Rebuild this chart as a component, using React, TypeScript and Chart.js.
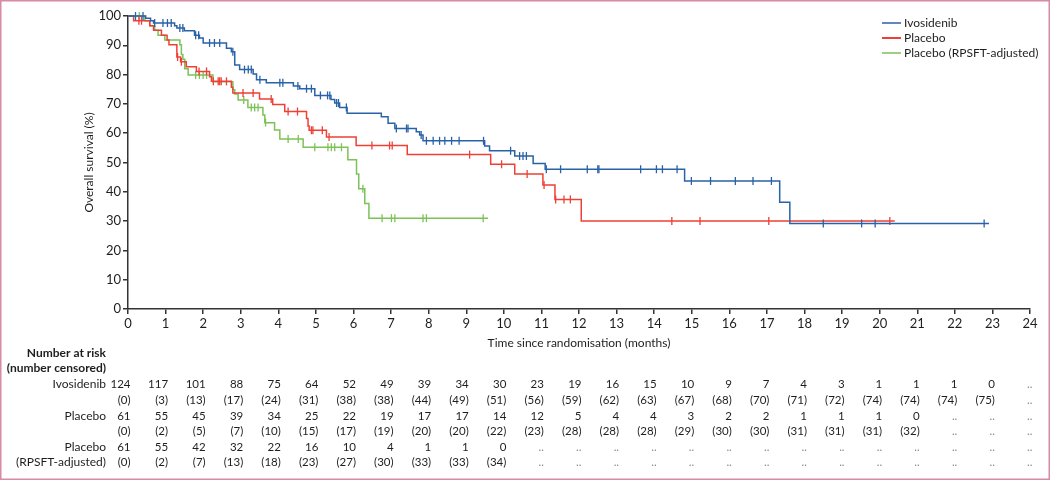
import React, { useEffect, useRef } from "react";
import { Chart, registerables } from "chart.js";

Chart.register(...registerables);

// ---------- data ----------
const seriesLabels = ["Ivosidenib", "Placebo", "Placebo (RPSFT-adjusted)"];

// Kaplan-Meier steps: [time (months), survival (%) after the drop]
const ivoSteps: [number, number][] = [
  [0, 100], [0.47, 99.2], [0.6, 98.4], [0.68, 97.6], [1.24, 96.7], [1.3, 95.9], [1.5, 95.0],
  [1.77, 93.4], [1.9, 92.5], [2.0, 90.8], [2.62, 89.0], [2.75, 87.8], [2.84, 83.3], [2.97, 81.7],
  [3.33, 80.2], [3.42, 78.2], [3.68, 77.2], [4.4, 76.1], [4.57, 75.2], [4.97, 72.9], [5.4, 71.5],
  [5.5, 70.3], [5.63, 68.8], [5.83, 66.8], [6.74, 65.6], [6.92, 63.4], [7.1, 61.6], [7.67, 60.5],
  [7.76, 59.4], [7.85, 57.4], [9.49, 55.6], [9.62, 54.0], [10.29, 52.2], [10.78, 49.7],
  [11.1, 47.7], [14.81, 43.7], [17.34, 36.4], [17.61, 29.2],
];
const ivoEnd = 22.91;
const ivoCensor = [
  0.2, 0.4, 0.71, 0.93, 1.05, 1.15, 1.38, 1.46, 1.8, 1.88, 2.17, 2.3, 2.44, 2.79, 3.1, 3.2, 3.28,
  3.51, 4.04, 4.12, 4.52, 4.75, 4.88, 5.12, 5.31, 5.37, 5.55, 5.6, 5.81, 7.14, 7.41, 7.45, 7.8,
  7.94, 8.12, 8.29, 8.43, 8.61, 8.81, 9.46, 10.18, 10.42, 10.51, 10.6, 11.13, 11.51, 12.22, 12.5,
  12.53, 13.64, 14.06, 14.22, 14.61, 14.99, 15.5, 16.16, 16.63, 17.12, 18.5, 19.52, 19.88, 22.78,
];

const plaSteps: [number, number][] = [
  [0, 100], [0.15, 98.4], [0.58, 96.7], [0.68, 95.1], [0.89, 93.4], [1.04, 91.8], [1.09, 90.2],
  [1.3, 86.0], [1.4, 84.4], [1.55, 82.7], [1.82, 81.1], [2.17, 79.3], [2.22, 77.7], [2.75, 75.7],
  [2.79, 73.7], [3.5, 71.7], [3.85, 69.8], [4.17, 67.4], [4.75, 65.0], [4.79, 62.5], [4.82, 61.0],
  [5.28, 58.7], [6.07, 55.8], [7.43, 52.7], [9.65, 49.4], [10.29, 46.1], [11.04, 42.3],
  [11.36, 37.4], [12.06, 30.0],
];
const plaEnd = 20.4;
const plaCensor = [
  0.29, 0.36, 1.32, 1.42, 1.89, 2.09, 2.27, 2.4, 2.44, 2.48, 2.62, 3.06, 3.33, 3.81, 4.26, 4.51,
  4.88, 4.92, 5.17, 5.35, 6.49, 6.96, 7.03, 9.09, 9.94, 10.62, 11.07, 11.38, 11.6, 11.77, 14.47,
  15.22, 17.05, 20.27,
];

const rpsSteps: [number, number][] = [
  [0, 100], [0.45, 98.4], [0.58, 96.7], [0.71, 95.1], [0.8, 93.4], [0.98, 91.8], [1.38, 90.2],
  [1.42, 86.9], [1.46, 85.2], [1.51, 82.0], [1.6, 79.9], [2.26, 77.6], [2.79, 74.8], [2.84, 73.4],
  [2.93, 71.3], [3.19, 68.8], [3.59, 66.2], [3.64, 63.6], [3.9, 61.1], [4.04, 58.0], [4.66, 55.2],
  [5.85, 50.9], [6.08, 46.1], [6.14, 41.0], [6.3, 36.0], [6.41, 31.0],
];
const rpsEnd = 9.58;
const rpsCensor = [
  0.3, 1.8, 1.9, 2.0, 2.09, 3.08, 3.28, 3.37, 3.46, 3.66, 4.26, 4.53, 4.97, 5.32, 5.41, 5.5, 5.68,
  6.25, 6.76, 7.01, 7.1, 7.85, 7.94, 9.45,
];

// Number at risk (number censored) at months 0..24
const ivoAtRisk = ["124", "117", "101", "88", "75", "64", "52", "49", "39", "34", "30", "23", "19", "16", "15", "10", "9", "7", "4", "3", "1", "1", "1", "0", ".."];
const ivoCens = ["(0)", "(3)", "(13)", "(17)", "(24)", "(31)", "(38)", "(38)", "(44)", "(49)", "(51)", "(56)", "(59)", "(62)", "(63)", "(67)", "(68)", "(70)", "(71)", "(72)", "(74)", "(74)", "(74)", "(75)", ".."];
const plaAtRisk = ["61", "55", "45", "39", "34", "25", "22", "19", "17", "17", "14", "12", "5", "4", "4", "3", "2", "2", "1", "1", "1", "0", "..", "..", ".."];
const plaCens = ["(0)", "(2)", "(5)", "(7)", "(10)", "(15)", "(17)", "(19)", "(20)", "(20)", "(22)", "(23)", "(28)", "(28)", "(28)", "(29)", "(30)", "(30)", "(31)", "(31)", "(31)", "(32)", "..", "..", ".."];
const rpsAtRisk = ["61", "55", "42", "32", "22", "16", "10", "4", "1", "1", "0", "..", "..", "..", "..", "..", "..", "..", "..", "..", "..", "..", "..", "..", ".."];
const rpsCens = ["(0)", "(2)", "(7)", "(13)", "(18)", "(23)", "(27)", "(30)", "(33)", "(33)", "(34)", "..", "..", "..", "..", "..", "..", "..", "..", "..", "..", "..", "..", "..", ".."];

const tableRowLabels = ["Ivosidenib", "", "Placebo", "", "Placebo", "(RPSFT-adjusted)"];
const tableRows = [ivoAtRisk, ivoCens, plaAtRisk, plaCens, rpsAtRisk, rpsCens];

// ---------- style ----------
const BLUE = "#2a62a8";
const RED = "#ee4036";
const GREEN = "#7dc257";
const AXIS = "#333333";
const TEXT = "#1e1e1e";
const FONT = "Lato";

function stepPoints(steps: [number, number][], end: number) {
  const pts = steps.map(([x, y]) => ({ x, y }));
  pts.push({ x: end, y: steps[steps.length - 1][1] });
  return pts;
}
function survAt(steps: [number, number][], t: number) {
  let v = steps[0][1];
  for (const [x, y] of steps) if (x <= t) v = y;
  return v;
}
function censorPoints(steps: [number, number][], times: number[]) {
  return times.map((t) => ({ x: t, y: survAt(steps, t) }));
}

const overlay = {
  id: "overlay",
  afterDraw(chart: any) {
    const ctx = chart.ctx as CanvasRenderingContext2D;
    const xs = chart.scales.x;
    const area = chart.chartArea;
    ctx.save();
    // frame
    ctx.strokeStyle = "#d88aa4";
    ctx.lineWidth = 1.5;
    ctx.strokeRect(0.75, 0.75, chart.width - 1.5, chart.height - 1.5);

    // legend
    const colors = [BLUE, RED, GREEN];
    ctx.font = `12px ${FONT}`;
    ctx.textBaseline = "middle";
    ctx.textAlign = "left";
    seriesLabels.forEach((lab, i) => {
      const y = 23 + i * 15;
      ctx.strokeStyle = colors[i];
      ctx.lineWidth = i === 1 ? 2 : 1.5;
      ctx.beginPath();
      ctx.moveTo(882, y);
      ctx.lineTo(901, y);
      ctx.stroke();
      ctx.fillStyle = TEXT;
      ctx.fillText(lab, 904, y);
    });

    // axis titles
    ctx.fillStyle = TEXT;
    ctx.font = `12px ${FONT}`;
    ctx.textAlign = "center";
    ctx.fillText("Time since randomisation (months)", (area.left + area.right) / 2, 343);
    ctx.save();
    ctx.translate(89, (area.top + area.bottom) / 2);
    ctx.rotate(-Math.PI / 2);
    ctx.fillText("Overall survival (%)", 0, 0);
    ctx.restore();

    // number at risk table
    ctx.font = `bold 12px ${FONT}`;
    ctx.textAlign = "right";
    ctx.fillText("Number at risk", 106, 353);
    ctx.fillText("(number censored)", 106, 368.5);
    const rowY = [384.5, 400.5, 416, 431.5, 447, 462.5];
    ctx.font = `12px ${FONT}`;
    tableRowLabels.forEach((lab, r) => {
      if (lab) ctx.fillText(lab, 106, rowY[r]);
    });
    ctx.font = `11.5px ${FONT}`;
    tableRows.forEach((row, r) => {
      row.forEach((val, i) => {
        const px = xs.getPixelForValue(i) + 2.5;
        ctx.fillStyle = val === ".." ? "#8a8a8a" : TEXT;
        ctx.fillText(val, px, rowY[r]);
      });
    });
    ctx.restore();
  },
};

export default function App() {
  const ref = useRef<HTMLCanvasElement | null>(null);
  useEffect(() => {
    if (!ref.current) return;
    const lineDs = (label: string, data: any[], color: string) => ({
      label,
      data,
      borderColor: color,
      backgroundColor: color,
      borderWidth: 1.5,
      stepped: true,
      pointRadius: 0,
      fill: false,
      clip: false as any,
    });
    const censorDs = (label: string, data: any[], color: string) => ({
      label,
      data,
      borderColor: color,
      backgroundColor: color,
      showLine: false,
      pointStyle: "line",
      rotation: 90,
      pointRadius: 4,
      pointBorderWidth: 1.3,
      clip: false as any,
    });
    const chart = new Chart(ref.current, {
      type: "line",
      data: {
        datasets: [
          lineDs(seriesLabels[0], stepPoints(ivoSteps, ivoEnd), BLUE),
          censorDs(seriesLabels[0] + " censored", censorPoints(ivoSteps, ivoCensor), BLUE),
          lineDs(seriesLabels[1], stepPoints(plaSteps, plaEnd), RED),
          censorDs(seriesLabels[1] + " censored", censorPoints(plaSteps, plaCensor), RED),
          lineDs(seriesLabels[2], stepPoints(rpsSteps, rpsEnd), GREEN),
          censorDs(seriesLabels[2] + " censored", censorPoints(rpsSteps, rpsCensor), GREEN),
        ] as any,
      },
      options: {
        animation: false,
        responsive: false,
        events: [],
        layout: { padding: { left: 0, top: 16, right: 20, bottom: 0 } },
        plugins: { legend: { display: false }, tooltip: { enabled: false }, title: { display: false } },
        scales: {
          x: {
            type: "linear",
            min: 0,
            max: 24,
            ticks: { stepSize: 1, autoSkip: false, maxRotation: 0, padding: 2, color: TEXT, font: { family: FONT, size: 13 } },
            grid: { drawOnChartArea: false, drawTicks: true, tickLength: 5, color: AXIS, lineWidth: 1.5 },
            border: { display: true, color: AXIS, width: 1.5 },
            afterFit: (s: any) => { s.height = 171; },
          },
          y: {
            type: "linear",
            min: 0,
            max: 100,
            ticks: { stepSize: 10, padding: 2, color: TEXT, font: { family: FONT, size: 13 } },
            grid: { drawOnChartArea: false, drawTicks: true, tickLength: 5, color: AXIS, lineWidth: 1.5 },
            border: { display: true, color: AXIS, width: 1.5 },
            afterFit: (s: any) => { s.width = 128; },
          },
        },
      },
      plugins: [overlay],
    } as any);
    return () => chart.destroy();
  }, []);
  return (
    <div style={{ position: "fixed", left: 0, top: 0, width: 1050, height: 480, background: "#fff" }}>
      <canvas ref={ref} width={1050} height={480} style={{ display: "block", width: 1050, height: 480 }} />
    </div>
  );
}
